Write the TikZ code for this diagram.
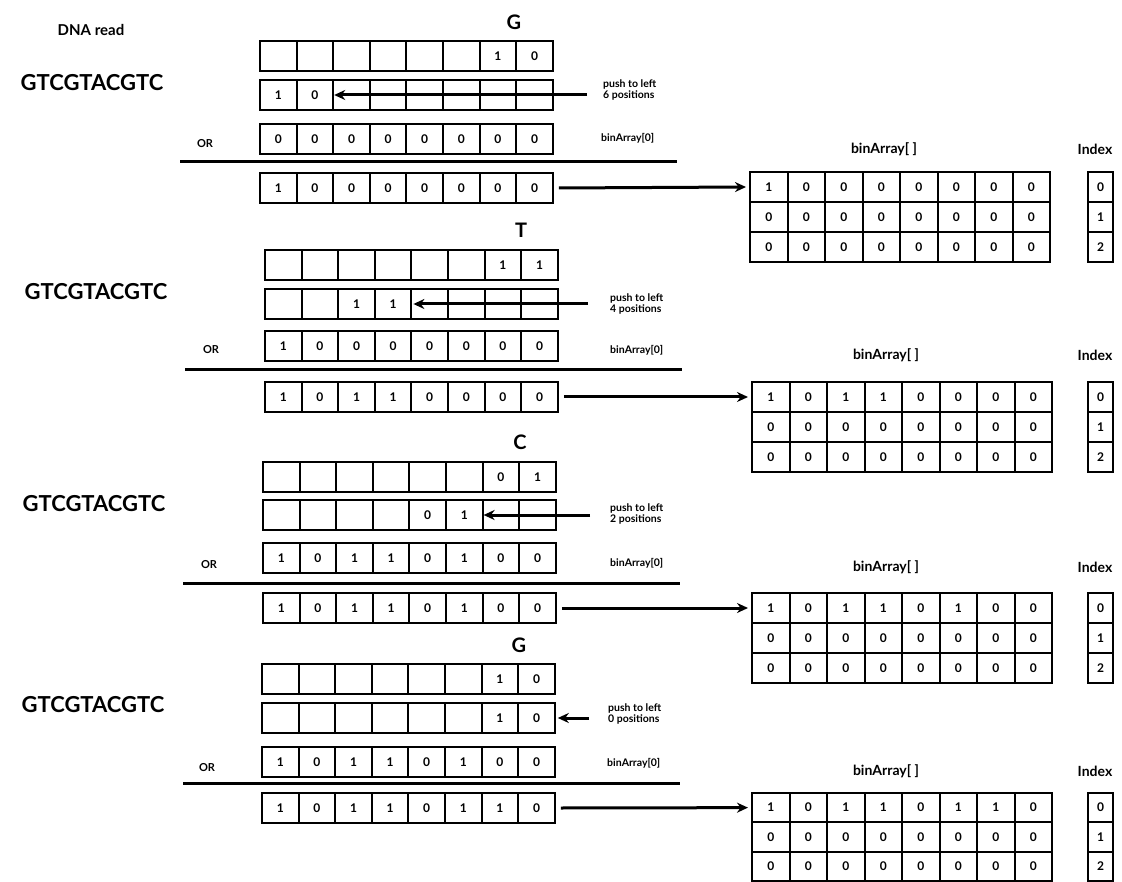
\documentclass[tikz,border=0pt]{standalone}
\usepackage{fontspec}
\setmainfont{Lato}
\usetikzlibrary{arrows.meta}
\tikzset{
 cell/.style={draw, line width=2pt, rectangle, inner sep=0pt, minimum width=36.6pt, minimum height=30pt, font=\fontsize{12}{12}\selectfont\bfseries},
 mcell/.style={cell, minimum width=37.5pt},
 icell/.style={cell, minimum width=25pt},
 orline/.style={line width=3pt},
 arr/.style={line width=3pt, -{Stealth[length=11pt,width=10pt]}},
 seq/.style={font=\fontsize{22}{22}\selectfont\bfseries},
 base/.style={font=\fontsize{20}{20}\selectfont\bfseries},
 small/.style={font=\fontsize{10.5}{11.5}\selectfont\bfseries, align=left, anchor=west, inner sep=0pt},
 title/.style={font=\fontsize{14}{14}\selectfont\bfseries},
 ortext/.style={font=\fontsize{11}{11}\selectfont\bfseries},
}
\newcommand\regrow[4]{%
 \foreach \v [count=\i] in {#4} {
   \node[cell] (#1-\i) at ({#2+(\i-0.5)*36.6}, {#3+15}) {\v};
 }}
\newcommand\matblock[5]{%
 \foreach \v [count=\i] in {#5} {\node[mcell, minimum height=#4pt] (#1-r1-\i) at ({#2+(\i-0.5)*37.5},{#3+0.5*#4}) {\v};}
 \foreach \r in {2,3} {\foreach \i in {1,...,8} {\node[mcell, minimum height=#4pt] (#1-r\r-\i) at ({#2+(\i-0.5)*37.5},{#3+(\r-0.5)*#4}) {0};}}
 \foreach \v [count=\i] in {0,1,2} {\node[icell, minimum height=#4pt] (#1-x\i) at (1100.5,{#3+(\i-0.5)*#4}) {\v};}
}
\begin{document}
\begin{tikzpicture}[x=1pt,y=-1pt]
\useasboundingbox (0,0) rectangle (1122,882);
% ---------- block 1 (G)
\node[font=\fontsize{15}{15}\selectfont\bfseries] (dna) at (91,30) {DNA read};
\node[base] (lbl1) at (514,22) {G};
\node[seq] (seq1) at (92,83) {GTCGTACGTC};
\regrow{b1a}{260}{41}{{},{},{},{},{},{},1,0}
\regrow{b1b}{260}{80}{1,0,{},{},{},{},{},{}}
\regrow{b1c}{260}{124}{0,0,0,0,0,0,0,0}
\regrow{b1d}{260}{173}{1,0,0,0,0,0,0,0}
\node[ortext] (or1) at (205,144) {OR};
\coordinate (or1a) at (180,162); \coordinate (or1b) at (677,162);
\draw[orline] (or1a) -- (or1b);
\coordinate (p1) at (587,95);
\draw[arr] (p1) -- ([xshift=2pt]b1b-3.west);
\node[small] (pt1) at (603,90) {push to left\\6 positions};
\node[small] (ba1) at (601,138) {binArray[0]};
\matblock{m1}{750}{172}{30}{1,0,0,0,0,0,0,0}
\node[title] (t1) at (884,149) {binArray[ ]};
\node[title] (ix1) at (1095,149) {Index};
\draw[arr] ([xshift=5pt]b1d-8.east) -- ([xshift=-3pt]m1-r1-1.west);
% ---------- block 2 (T)
\node[base] (lbl2) at (521,230) {T};
\node[seq] (seq2) at (96,292) {GTCGTACGTC};
\regrow{b2a}{265}{250}{{},{},{},{},{},{},1,1}
\regrow{b2b}{265}{289}{{},{},1,1,{},{},{},{}}
\regrow{b2c}{265}{331}{1,0,0,0,0,0,0,0}
\regrow{b2d}{265}{382}{1,0,1,1,0,0,0,0}
\node[ortext] (or2) at (211,350) {OR};
\coordinate (or2a) at (185,370); \coordinate (or2b) at (682,370);
\draw[orline] (or2a) -- (or2b);
\coordinate (p2) at (588,304);
\draw[arr] (p2) -- ([xshift=3pt]b2b-5.west);
\node[small] (pt2) at (610,304) {push to left\\4 positions};
\node[small] (ba2) at (610,350) {binArray[0]};
\matblock{m2}{752}{382}{30}{1,0,1,1,0,0,0,0}
\node[title] (t2) at (886,355) {binArray[ ]};
\node[title] (ix2) at (1095,355) {Index};
\draw[arr] ([xshift=5pt]b2d-8.east) -- ([xshift=-3pt]m2-r1-1.west);
% ---------- block 3 (C)
\node[base] (lbl3) at (520,442) {C};
\node[seq] (seq3) at (94,504) {GTCGTACGTC};
\regrow{b3a}{263}{462}{{},{},{},{},{},{},0,1}
\regrow{b3b}{263}{500}{{},{},{},{},0,1,{},{}}
\regrow{b3c}{263}{543}{1,0,1,1,0,1,0,0}
\regrow{b3d}{263}{593}{1,0,1,1,0,1,0,0}
\node[ortext] (or3) at (209,565) {OR};
\coordinate (or3a) at (183,583); \coordinate (or3b) at (680,583);
\draw[orline] (or3a) -- (or3b);
\coordinate (p3) at (590,515);
\draw[arr] (p3) -- ([xshift=2pt]b3b-7.west);
\node[small] (pt3) at (610,514) {push to left\\2 positions};
\node[small] (ba3) at (610,563) {binArray[0]};
\matblock{m3}{752}{593}{30}{1,0,1,1,0,1,0,0}
\node[title] (t3) at (886,567) {binArray[ ]};
\node[title] (ix3) at (1095,567) {Index};
\draw[arr] ([xshift=5pt]b3d-8.east) -- ([xshift=-3pt]m3-r1-1.west);
% ---------- block 4 (G)
\node[base] (lbl4) at (519,645) {G};
\node[seq] (seq4) at (93,705) {GTCGTACGTC};
\regrow{b4a}{262}{664}{{},{},{},{},{},{},1,0}
\regrow{b4b}{262}{703}{{},{},{},{},{},{},1,0}
\regrow{b4c}{262}{747}{1,0,1,1,0,1,0,0}
\regrow{b4d}{262}{793}{1,0,1,1,0,1,1,0}
\node[ortext] (or4) at (207,768) {OR};
\coordinate (or4a) at (183,783); \coordinate (or4b) at (680,783);
\draw[orline] (or4a) -- (or4b);
\coordinate (p4) at (589,718);
\draw[arr] (p4) -- ([xshift=2pt]b4b-8.east);
\node[small] (pt4) at (608,714) {push to left\\0 positions};
\node[small] (ba4) at (607,763) {binArray[0]};
\matblock{m4}{752}{793}{29.3}{1,0,1,1,0,1,1,0}
\node[title] (t4) at (886,771) {binArray[ ]};
\node[title] (ix4) at (1095,771) {Index};
\draw[arr] ([xshift=5pt]b4d-8.east) -- ([xshift=-3pt]m4-r1-1.west);
\end{tikzpicture}
\end{document}
